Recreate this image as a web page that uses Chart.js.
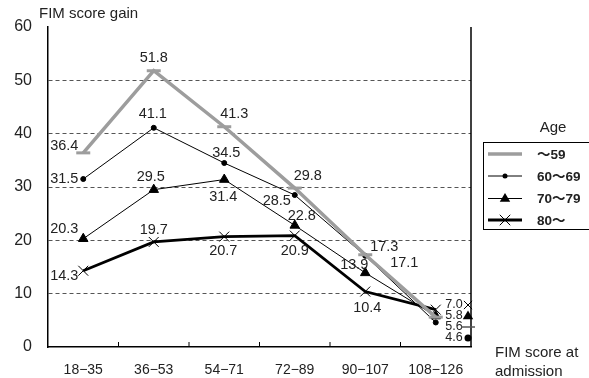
<!DOCTYPE html>
<html>
<head>
<meta charset="utf-8">
<style>
  html, body { margin: 0; padding: 0; background: #fff; }
  #wrap { width: 589px; height: 378px; }
</style>
</head>
<body>
<div id="wrap"><canvas id="myChart"></canvas></div>
<script src="https://cdn.jsdelivr.net/npm/chart.js@4.4.0/dist/chart.umd.min.js"></script>
<script>
// data
const admissionGroups = ['18−35', '36−53', '54−71', '72−89', '90−107', '108−126'];
const ageUnder59 = [36.4, 51.8, 41.3, 29.8, 17.3, 5.6];
const age60to69 = [31.5, 41.1, 34.5, 28.5, 17.1, 4.6];
const age70to79 = [20.3, 29.5, 31.4, 22.8, 13.9, 5.8];
const age80plus = [14.3, 19.7, 20.7, 20.9, 10.4, 7.0];
const ageGroups = ['～59', '60～69', '70～79', '80～'];

// where each value label sits relative to its point (last column is listed at the right)
const labelShift = [
  [[-19, -7], [0, -13], [10, -13], [13, -12], [19, -8]],
  [[-19, 0], [-1, -14], [2, -10], [-18, 6], [39, 7]],
  [[-19, -10], [-3, -13], [-1, 17], [7, -9], [-11, -8]],
  [[-19, 5], [0, -12], [-1, 14], [0, 15], [2, 16]]
];

const FONT = '"Liberation Sans", "Noto Sans CJK JP", sans-serif';
const INK = '#222';
const GRAY = '#9d9d9d';

function marker(ctx, ds, x, y) {
  ctx.save();
  ctx.fillStyle = ds.pointBackgroundColor;
  ctx.strokeStyle = ds.pointBorderColor;
  ctx.lineWidth = ds.pointBorderWidth;
  const r = ds.pointRadius;
  ctx.beginPath();
  if (ds.pointStyle === 'line') {
    ctx.moveTo(x - r, y); ctx.lineTo(x + r, y); ctx.stroke();
  } else if (ds.pointStyle === 'circle') {
    ctx.arc(x, y, r, 0, Math.PI * 2); ctx.fill();
  } else if (ds.pointStyle === 'triangle') {
    ctx.moveTo(x, y - r); ctx.lineTo(x + r * 0.95, y + r * 0.6); ctx.lineTo(x - r * 0.95, y + r * 0.6);
    ctx.closePath(); ctx.fill();
  } else {
    ctx.moveTo(x - r * 0.75, y - r * 0.75); ctx.lineTo(x + r * 0.75, y + r * 0.75);
    ctx.moveTo(x + r * 0.75, y - r * 0.75); ctx.lineTo(x - r * 0.75, y + r * 0.75);
    ctx.stroke();
  }
  ctx.restore();
}

const extras = {
  id: 'extras',
  afterDatasetsDraw(chart) {
    const ctx = chart.ctx;
    const area = chart.chartArea;
    const xs = chart.scales.x;
    const ys = chart.scales.y;
    ctx.save();

    // right frame line
    ctx.strokeStyle = '#000';
    ctx.lineWidth = 1.5;
    ctx.beginPath();
    ctx.moveTo(area.right, area.top);
    ctx.lineTo(area.right, area.bottom);
    ctx.stroke();

    // small inside ticks between categories
    ctx.lineWidth = 1;
    for (let i = 1; i < admissionGroups.length; i++) {
      const bx = (xs.getPixelForValue(i - 1) + xs.getPixelForValue(i)) / 2;
      ctx.beginPath();
      ctx.moveTo(bx, area.bottom);
      ctx.lineTo(bx, area.bottom - 5);
      ctx.stroke();
    }

    // value labels
    ctx.fillStyle = INK;
    ctx.font = '14.5px ' + FONT;
    ctx.textAlign = 'center';
    ctx.textBaseline = 'middle';
    const last = admissionGroups.length - 1;
    chart.data.datasets.forEach((ds, d) => {
      ds.data.forEach((v, i) => {
        if (i === last) return;
        const px = xs.getPixelForValue(i) + labelShift[d][i][0];
        const py = ys.getPixelForValue(v) + labelShift[d][i][1];
        ctx.fillText(v.toFixed(1), px, py);
      });
    });

    // last column listed along the right edge
    ctx.font = '12.5px ' + FONT;
    const order = chart.data.datasets.map((ds, d) => d)
      .sort((a, b) => chart.data.datasets[b].data[last] - chart.data.datasets[a].data[last]);
    order.forEach((d, k) => {
      const ds = chart.data.datasets[d];
      const ty = 305 + k * 11;
      ctx.fillStyle = INK;
      ctx.fillText(ds.data[last].toFixed(1), area.right - 17, ty);
      const m = Object.assign({}, ds);
      if (m.pointStyle === 'line') { m.pointRadius = 7; m.pointBorderWidth = 1.5; m.pointBorderColor = '#555'; }
      if (m.pointStyle === 'triangle') m.pointRadius = 5.5;
      if (m.pointStyle === 'circle') m.pointRadius = 3.5;
      if (m.pointStyle === 'crossRot') m.pointRadius = 5.5;
      marker(ctx, m, area.right - 3, ty);
    });

    // axis titles
    ctx.font = '15px ' + FONT;
    ctx.textAlign = 'left';
    ctx.fillStyle = INK;
    ctx.fillText('FIM score gain', 39, 14);
    ctx.fillText('FIM score at', 495, 353);
    ctx.fillText('admission', 495, 372);

    // legend
    ctx.textAlign = 'center';
    ctx.fillText('Age', 553, 128);
    ctx.strokeStyle = '#000';
    ctx.lineWidth = 1;
    ctx.strokeRect(483.5, 142.5, 120, 87);
    ctx.font = 'bold 13.5px ' + FONT;
    ctx.textAlign = 'left';
    const legendY = [154, 176, 198.5, 220];
    chart.data.datasets.forEach((ds, d) => {
      const ly = legendY[d];
      ctx.strokeStyle = ds.borderColor;
      ctx.lineWidth = ds.borderWidth;
      ctx.beginPath();
      ctx.moveTo(488, ly);
      ctx.lineTo(522, ly);
      ctx.stroke();
      if (ds.pointStyle !== 'line') marker(ctx, ds, 505, ly);
      ctx.fillStyle = INK;
      ctx.fillText(ageGroups[d], 537, ly + 1);
    });

    ctx.restore();
  }
};

const seriesValues = [ageUnder59, age60to69, age70to79, age80plus];
const seriesStyle = [
  { color: GRAY, width: 3.5, point: 'line', radius: 7, pointWidth: 3 },
  { color: '#000', width: 1, point: 'circle', radius: 2.5, pointWidth: 1 },
  { color: '#000', width: 1, point: 'triangle', radius: 5.5, pointWidth: 1 },
  { color: '#000', width: 2.8, point: 'crossRot', radius: 7, pointWidth: 1 }
];

const config = {
  type: 'line',
  data: {
    labels: admissionGroups,
    datasets: seriesValues.map((vals, d) => ({
      label: ageGroups[d],
      data: vals,
      borderColor: seriesStyle[d].color,
      borderWidth: seriesStyle[d].width,
      pointStyle: seriesStyle[d].point,
      pointRadius: seriesStyle[d].radius,
      pointBorderWidth: seriesStyle[d].pointWidth,
      pointBorderColor: seriesStyle[d].color,
      pointBackgroundColor: seriesStyle[d].color,
      tension: 0,
      fill: false
    }))
  },
  options: {
    responsive: true,
    maintainAspectRatio: false,
    animation: false,
    layout: { padding: { top: 27, right: 118, left: 0, bottom: 0 } },
    plugins: { legend: { display: false }, tooltip: { enabled: false } },
    scales: {
      x: {
        type: 'category',
        offset: true,
        grid: { display: false, drawTicks: false },
        border: { color: '#000', width: 1.5 },
        ticks: { color: INK, font: { family: FONT, size: 14 }, padding: 15, maxRotation: 0, autoSkip: false },
        afterFit: (s) => { s.height = 31; }
      },
      y: {
        min: 0,
        max: 60,
        ticks: { stepSize: 10, color: INK, font: { family: FONT, size: 16 }, padding: 16 },
        grid: {
          drawTicks: false,
          lineWidth: 1,
          color: (c) => (c.tick && (c.tick.value === 0 || c.tick.value === 60)) ? 'rgba(0,0,0,0)' : '#555'
        },
        border: { color: '#000', width: 1.5, dash: [4, 3] },
        afterFit: (s) => { s.width = 48; }
      }
    }
  },
  plugins: [extras]
};

let ctx = document.getElementById('myChart').getContext('2d');
let myChart = new Chart(ctx, config);
</script>
</body>
</html>
